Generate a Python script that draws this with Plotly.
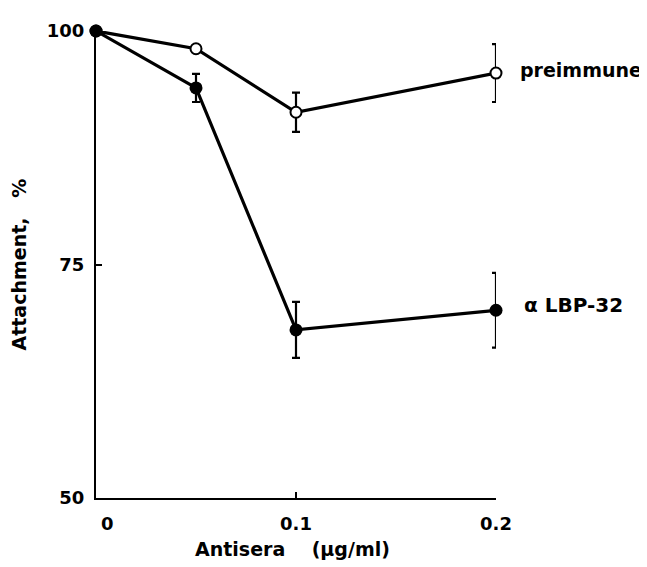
import plotly.graph_objects as go

# Data
antisera = [0, 0.05, 0.1, 0.2]
preimmune = [100, 98.1, 91.3, 95.5]
preimmune_err = [0, 0, 2.1, 3.1]
lbp32 = [100, 93.9, 68.0, 70.1]
lbp32_err = [0, 1.5, 3.0, 4.0]

x_tickvals = [0, 0.1, 0.2]
x_ticktext = ["\u2003\u20050", "0.1", "0.2"]
y_tickvals = [50, 75, 100]
y_ticktext = ["50", "75", "100"]

FONT = "DejaVu Sans"

fig = go.Figure()
fig.add_trace(go.Scatter(
    x=antisera, y=preimmune, mode="lines+markers", name="preimmune",
    line=dict(color="black", width=3.2),
    marker=dict(symbol="circle", size=11, color="white", line=dict(color="black", width=2)),
    error_y=dict(type="data", array=preimmune_err, visible=True, color="black", thickness=2.2, width=4),
    cliponaxis=False,
))
fig.add_trace(go.Scatter(
    x=antisera, y=lbp32, mode="lines+markers", name="α LBP-32",
    line=dict(color="black", width=3.2),
    marker=dict(symbol="circle", size=13, color="black"),
    error_y=dict(type="data", array=lbp32_err, visible=True, color="black", thickness=2.2, width=4),
    cliponaxis=False,
))

fig.add_annotation(x=antisera[-1], y=preimmune[-1], text="preimmune", showarrow=False,
                   xanchor="left", yanchor="middle", xshift=22, yshift=3,
                   font=dict(family=FONT, size=19, color="black", weight="bold"))
fig.add_annotation(x=antisera[-1], y=lbp32[-1], text="α LBP-32", showarrow=False,
                   xanchor="left", yanchor="middle", xshift=26, yshift=5,
                   font=dict(family=FONT, size=20, color="black", weight="bold"))

fig.add_annotation(x=0.49, y=0, xref="paper", yref="paper", text="Antisera\u00a0\u00a0\u00a0\u00a0(µg/ml)",
                   showarrow=False, xanchor="center", yanchor="middle", yshift=-51,
                   font=dict(family=FONT, size=19, color="black", weight="bold"))
fig.add_annotation(x=0, y=0.5, xref="paper", yref="paper", text="Attachment,\u00a0\u00a0\u00a0%",
                   showarrow=False, xanchor="center", yanchor="middle", xshift=-78, textangle=-90,
                   font=dict(family=FONT, size=19, color="black", weight="bold"))

fig.update_layout(
    width=639, height=559,
    margin=dict(l=88, r=151, t=13, b=69),
    paper_bgcolor="white", plot_bgcolor="white",
    showlegend=False,
    font=dict(family=FONT, color="black", weight="bold"),
)
fig.update_xaxes(
    range=[0, 0.2], showgrid=False, zeroline=False,
    showline=True, linecolor="black", linewidth=2,
    ticks="inside", ticklen=6, tickwidth=2, tickcolor="black",
    tickvals=x_tickvals, ticktext=x_ticktext,
    tickfont=dict(family=FONT, size=18, color="black", weight="bold"),
    ticklabelstandoff=8,
)
fig.update_yaxes(
    range=[50, 100], showgrid=False, zeroline=False,
    showline=True, linecolor="black", linewidth=2,
    ticks="inside", ticklen=6, tickwidth=2, tickcolor="black",
    tickvals=y_tickvals, ticktext=y_ticktext,
    tickfont=dict(family=FONT, size=18, color="black", weight="bold"),
    ticklabelstandoff=6,
)

fig.write_html("out.html")
